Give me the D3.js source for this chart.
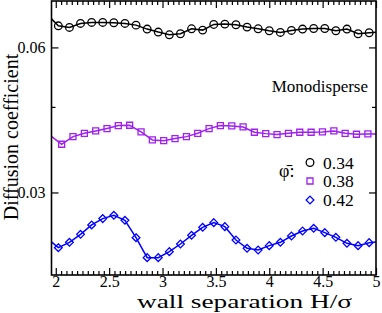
<!DOCTYPE html>
<html><head><meta charset="utf-8">
<script src="https://cdn.jsdelivr.net/npm/d3@7"></script>
<style>html,body{margin:0;padding:0;background:#fff;}svg{display:block;}</style>
</head><body>
<svg id="c" width="382" height="313"></svg>
<script>
// ---- data ----
const seriesLabels = ["0.34", "0.38", "0.42"];
// phi = 0.34 (circles)
const hCirc = [1.92, 2.024, 2.128, 2.232, 2.336, 2.44, 2.544, 2.648, 2.752, 2.856, 2.96, 3.064, 3.168, 3.272, 3.376, 3.48, 3.584, 3.688, 3.792, 3.896, 4.0, 4.104, 4.208, 4.312, 4.416, 4.52, 4.624, 4.728, 4.832, 4.936, 5.04];
const dCirc = [0.0668, 0.06447, 0.06413, 0.06496, 0.06517, 0.06517, 0.0651, 0.06496, 0.06461, 0.06379, 0.06317, 0.06261, 0.06282, 0.06385, 0.06358, 0.06475, 0.06482, 0.06468, 0.0642, 0.06385, 0.06344, 0.0631, 0.06351, 0.06379, 0.06392, 0.06392, 0.06344, 0.06379, 0.06282, 0.06303, 0.0632];
// phi = 0.38 (squares)
const hSq = [1.949, 2.055, 2.161, 2.268, 2.374, 2.48, 2.586, 2.692, 2.799, 2.905, 3.011, 3.117, 3.224, 3.33, 3.436, 3.542, 3.649, 3.755, 3.861, 3.967, 4.073, 4.18, 4.286, 4.392, 4.498, 4.605, 4.711, 4.817, 4.924, 5.03];
const dSq = [0.0418, 0.03997, 0.04155, 0.04224, 0.04272, 0.04321, 0.04383, 0.0439, 0.04252, 0.04086, 0.04072, 0.04114, 0.04155, 0.04224, 0.04321, 0.04383, 0.04376, 0.04355, 0.04245, 0.04217, 0.04197, 0.04224, 0.04245, 0.04245, 0.04252, 0.04272, 0.04224, 0.04204, 0.0421, 0.0421];
// phi = 0.42 (diamonds)
const hDia = hCirc.slice();
const dDia = [0.0205, 0.01858, 0.01969, 0.02134, 0.02328, 0.02459, 0.02528, 0.02424, 0.02065, 0.01652, 0.01652, 0.01776, 0.01934, 0.02114, 0.02279, 0.02376, 0.02293, 0.02017, 0.01845, 0.0181, 0.019, 0.01969, 0.021, 0.02203, 0.02259, 0.02169, 0.02072, 0.01948, 0.019, 0.01962, 0.0198];

const xMajor = [2, 2.5, 3, 3.5, 4, 4.5, 5];
const xMinor = d3.range(2.05, 5.0, 0.05).filter(v => Math.abs(v*2 - Math.round(v*2)) > 1e-6);
const yMajor = [0.03, 0.06];
const yMinor = [0.0477];

// ---- layout ----
const L = 51.5, R = 376, T = 1, B = 275;
const svg = d3.select("#c");
const x = d3.scaleLinear().domain([1.96, 5.0]).range([L, R]);
const y = d3.scaleLinear().domain([0.01293, 0.0696]).range([B, T]);
const serif = "'Liberation Serif','Times New Roman',serif";

svg.append("clipPath").attr("id","clip").append("rect")
  .attr("x", L).attr("y", T).attr("width", R-L).attr("height", B-T);

const series = [
  {h: hCirc, d: dCirc, color: "#000000", shape: "circle"},
  {h: hSq, d: dSq, color: "#a020f0", shape: "square"},
  {h: hDia, d: dDia, color: "#0000ff", shape: "diamond"}
];

const sym = {
  circle: d3.symbol().type(d3.symbolCircle).size(46),
  square: d3.symbol().type(d3.symbolSquare).size(36),
  diamond: d3.symbol().type(d3.symbolDiamond2).size(38)
};

const line = d3.line().x(p => x(p[0])).y(p => y(p[1]));
series.forEach(s => {
  const pts = s.h.map((h,i) => [h, s.d[i]]);
  svg.append("path").attr("clip-path","url(#clip)")
    .attr("d", line(pts)).attr("fill","none")
    .attr("stroke", s.color).attr("stroke-width", 1.5);
  svg.append("g").selectAll("path")
    .data(pts.filter(p => p[0] >= 2 && p[0] <= 4.98))
    .join("path")
    .attr("transform", p => `translate(${x(p[0])},${y(p[1])})`)
    .attr("d", sym[s.shape]())
    .attr("fill","none").attr("stroke", s.color).attr("stroke-width", 1.3);
});

// ---- axes (inward ticks on all four sides) ----
function styleAxis(g){
  g.select(".domain").remove();
  g.selectAll("line").attr("stroke","#000").attr("stroke-width",1.2);
  g.selectAll("text").attr("font-family", serif).attr("font-size", 16).attr("fill","#000");
}
svg.append("g").attr("transform",`translate(0,${B})`)
  .call(d3.axisBottom(x).tickValues(xMajor).tickSize(-7).tickPadding(1).tickFormat(d3.format("")))
  .call(styleAxis);
svg.append("g").attr("transform",`translate(0,${B})`)
  .call(d3.axisBottom(x).tickValues(xMinor).tickSize(-4).tickFormat(""))
  .call(styleAxis);
svg.append("g").attr("transform",`translate(0,${T})`)
  .call(d3.axisTop(x).tickValues(xMajor).tickSize(-7).tickFormat(""))
  .call(styleAxis);
svg.append("g").attr("transform",`translate(0,${T})`)
  .call(d3.axisTop(x).tickValues(xMinor).tickSize(-4).tickFormat(""))
  .call(styleAxis);
svg.append("g").attr("transform",`translate(${L},0)`)
  .call(d3.axisLeft(y).tickValues(yMajor).tickSize(-7).tickPadding(6).tickFormat(d3.format(".2f")))
  .call(styleAxis);
svg.append("g").attr("transform",`translate(${L},0)`)
  .call(d3.axisLeft(y).tickValues(yMinor).tickSize(-4).tickFormat(""))
  .call(styleAxis);
svg.append("g").attr("transform",`translate(${R},0)`)
  .call(d3.axisRight(y).tickValues(yMajor).tickSize(-7).tickFormat(""))
  .call(styleAxis);
svg.append("g").attr("transform",`translate(${R},0)`)
  .call(d3.axisRight(y).tickValues(yMinor).tickSize(-4).tickFormat(""))
  .call(styleAxis);

// frame
svg.append("rect").attr("x",L).attr("y",T).attr("width",R-L).attr("height",B-T)
  .attr("fill","none").attr("stroke","#000").attr("stroke-width",1.6);

// ---- titles ----
svg.append("text").attr("x", 137).attr("y", 308)
  .attr("textLength", 215).attr("lengthAdjust", "spacingAndGlyphs")
  .attr("font-family", serif).attr("font-size", 18).text("wall separation H/σ");
svg.append("text").attr("transform","translate(18,137) rotate(-90)").attr("text-anchor","middle")
  .attr("font-family", serif).attr("font-size", 20).text("Diffusion coefficient");
svg.append("text").attr("x", 368).attr("y", 92).attr("text-anchor","end")
  .attr("font-family", serif).attr("font-size", 17).text("Monodisperse");

// ---- legend ----
const lg = svg.append("g");
lg.append("text").attr("x", 279).attr("y", 177).attr("font-family", serif).attr("font-size", 18)
  .text("φ\u0304:");
const rowY = [162.5, 181, 200];
series.forEach((s,i) => {
  lg.append("path").attr("transform",`translate(310,${rowY[i]})`)
    .attr("d", sym[s.shape]()).attr("fill","none").attr("stroke", s.color).attr("stroke-width",1.3);
  lg.append("text").attr("x", 323).attr("y", rowY[i]).attr("dy","0.35em")
    .attr("font-family", serif).attr("font-size", 17.5).text(seriesLabels[i]);
});
</script>
</body></html>
